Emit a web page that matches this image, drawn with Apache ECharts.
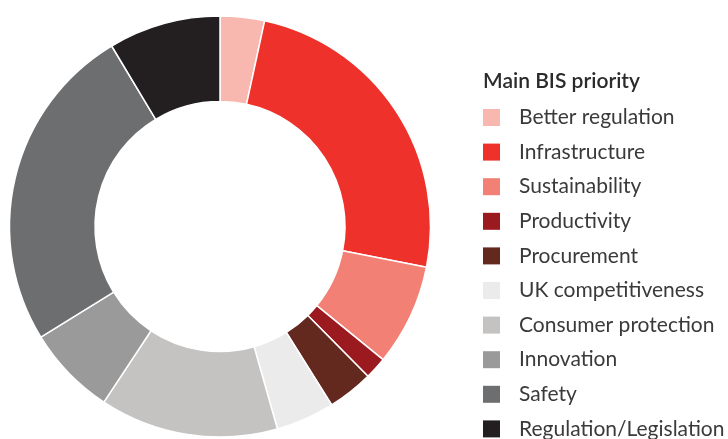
<!DOCTYPE html>
<html>
<head>
<meta charset="utf-8">
<script src="https://cdn.jsdelivr.net/npm/echarts@6/dist/echarts.min.js"></script>
<style>html,body{margin:0;padding:0;background:#fff}#c{width:728px;height:439px}</style>
</head>
<body>
<div id="c"></div>
<script>
const categories = ["Better regulation","Infrastructure","Sustainability","Productivity","Procurement","UK competitiveness","Consumer protection","Innovation","Safety","Regulation/Legislation"];
const values = [3.4, 24.7, 7.8, 1.7, 3.5, 4.5, 13.7, 6.9, 25.2, 8.6];
const colors = ["#f8b8af","#ee312a","#f28074","#9b1a20","#63281e","#ebebeb","#c4c3c2","#9a9a9a","#6d6e70","#231f20"];
const legendTitle = "Main BIS priority";

const chart = echarts.init(document.getElementById('c'));
chart.setOption({
  animation: false,
  title: {
    text: legendTitle,
    left: 483, top: 71, padding: 0,
    textStyle: {fontFamily: "Lato", fontSize: 21, fontWeight: 600, color: "#2b2b2b"}
  },
  legend: {
    orient: 'vertical',
    left: 483, top: 107, height: 340, padding: 0,
    itemWidth: 17, itemHeight: 17, itemGap: 13.6,
    icon: 'rect',
    selectedMode: false,
    itemStyle: {borderWidth: 0},
    textStyle: {fontFamily: "Lato", fontSize: 21, color: "#3a3a3a", padding: [0,0,0,14]}
  },
  series: [{
    type: 'pie',
    center: [220, 226.5],
    radius: [125, 210.5],
    startAngle: 90,
    clockwise: true,
    label: {show: false},
    labelLine: {show: false},
    emphasis: {disabled: true},
    itemStyle: {borderColor: '#fff', borderWidth: 1.5},
    data: categories.map((n, i) => ({name: n, value: values[i], itemStyle: {color: colors[i]}}))
  }]
});
</script>
</body>
</html>
